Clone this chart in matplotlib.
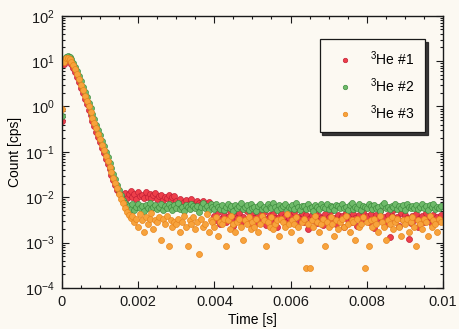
import numpy as np
import matplotlib
matplotlib.use("Agg")
import matplotlib.pyplot as plt
from matplotlib.ticker import LogLocator, FixedLocator, FixedFormatter, MultipleLocator, NullFormatter

plt.rcParams['font.family'] = ['Liberation Sans', 'DejaVu Sans']
plt.rcParams['mathtext.fontset'] = 'custom'
plt.rcParams['mathtext.rm'] = 'Liberation Sans'
plt.rcParams['mathtext.it'] = 'Liberation Sans:italic'
plt.rcParams['mathtext.bf'] = 'Liberation Sans:bold'

# ---- data (counts in units of 1e-3 cps), 50 us time bins ----
bin_width = 5e-5
series_labels = [r'$^3$He #1', r'$^3$He #2', r'$^3$He #3']

he1_mcps = [480, 8800, 11000, 10700, 10000, 8700, 7200, 5800, 4500, 3400,
            2600, 1950, 1480, 1120, 850, 650, 490, 370, 280, 210,
            162, 123, 93, 71, 54, 41, 31, 23.4, 18.2, 14.5, 12.3, 11.2,
            10.8, 12.5, 9.6, 11.9, 13.4, 10.2, 11.5, 9.1, 12.8, 10.6,
            11.2, 9.8, 13.0, 10.0, 11.7, 9.4, 10.9, 12.1, 9.0, 10.4,
            11.3, 8.8, 10.1, 9.5, 11.0, 8.6, 9.9, 10.7,
            8.2, 7.1, 9.0, 6.8, 7.9, 8.6, 6.5, 7.6, 8.9, 7.0,
            6.3, 8.1, 7.4, 6.9, 8.4, 6.1, 7.2, 7.8, 5.9, 6.7,
            3.9, 3.2, 4.6, 2.6, 3.5, 4.1, 2.9, 3.6, 4.9, 3.2,
            2.3, 4.0, 3.4, 4.4, 2.8, 3.7, 3.1, 5.0, 3.3, 2.5,
            4.0, 3.5, 2.7, 4.3, 3.2, 3.8, 4.7, 2.4, 3.4, 4.0,
            3.0, 4.2, 3.5, 2.2, 3.7, 4.5, 3.1, 3.9, 2.8, 3.4,
            4.1, 3.1, 4.8, 2.6, 3.6, 3.3, 4.4, 2.9, 4.0, 2.0,
            3.5, 4.0, 3.2, 4.6, 2.7, 3.8, 3.4, 2.4, 4.2, 3.1,
            3.7, 4.9, 3.0, 3.5, 2.5, 4.1, 3.3, 3.9, 2.2, 4.5,
            3.2, 3.6, 2.9, 4.3, 3.5, 2.3, 4.0, 3.1, 4.7, 3.4,
            3.8, 2.8, 4.2, 3.2, 2.1, 4.0, 3.5, 4.9, 3.0, 3.7,
            2.6, 4.1, 1.3, 3.9, 5.2, 3.1, 3.6, 2.3, 4.4, 3.1,
            4.0, 3.4, 1.2, 2.7, 3.8, 3.2, 4.2, 2.2, 3.5, 3.9,
            2.9, 4.5, 3.3, 3.7, 2.5, 4.0, 3.2, 3.6, 3.0, 4.1]

he2_mcps = [620, 10500, 12600, 13200, 12300, 11000, 9300, 7600, 6000, 4700,
            3600, 2750, 2090, 1580, 1200, 910, 690, 520, 400, 300,
            230, 174, 132, 100, 76, 58, 44, 33, 25, 19,
            14.5, 11.0, 8.7, 7.4, 6.6,
            6.3, 5.6, 6.9, 5.2, 6.1, 7.2, 5.8, 6.5, 5.0, 6.7, 5.9, 7.5, 5.4, 6.2, 6.8, 5.5, 6.0, 7.0, 5.3, 6.4, 5.7, 6.9, 6.1, 5.1, 6.6,
            5.9, 7.3, 5.6, 6.2, 5.0, 6.8, 6.0, 5.4, 7.1, 6.3, 5.7, 6.5, 4.8, 6.1, 7.4, 5.8, 6.4, 5.2, 6.9, 6.0, 5.5, 7.0, 6.2, 5.6, 6.7,
            5.3, 6.1, 7.2, 5.9, 6.4, 5.0, 6.8, 5.7, 6.3, 7.6, 5.5, 6.0, 6.6, 5.2, 7.0, 5.8, 6.2, 4.9, 6.5, 7.1, 5.6, 6.1, 5.4, 6.9, 6.0,
            5.7, 7.3, 6.2, 5.1, 6.6, 5.9, 6.4, 7.0, 5.3, 6.1, 5.8, 6.8, 5.5, 7.4, 6.0, 5.2, 6.5, 6.3, 5.6, 7.1, 5.9, 6.2, 4.9, 6.7, 6.0,
            5.4, 6.9, 6.1, 5.8, 7.2, 5.5, 6.4, 6.0, 5.1, 6.8, 6.3, 5.7, 7.0, 5.9, 6.2, 5.3, 6.6, 7.5, 5.6, 6.1, 5.8, 6.9, 5.2, 6.4, 6.0,
            5.7, 7.1, 6.3, 5.5, 6.7, 5.9, 6.2, 5.0, 6.8, 7.3, 5.8, 6.1, 5.4, 6.5, 6.0, 7.0, 5.6, 6.3, 5.9, 6.6, 5.2, 7.2, 6.1, 5.7, 6.4,
            5.9, 6.8, 5.5, 6.2, 7.0, 5.8, 6.3, 5.1, 6.6, 6.0, 7.2, 5.6, 6.1, 5.9, 6.5]

he3_mcps = [900, 9800, 11800, 11600, 10900, 9600, 8100, 6600, 5200, 4000,
            3050, 2300, 1740, 1320, 1000, 760, 570, 430, 330, 250,
            190, 143, 108, 82, 62, 47, 36, 27, 20.5, 15.7,
            12.0, 9.3, 7.3, 5.8, 4.7, 4.0, 3.4,
            3.92, 2.80, 3.36, 2.24, 4.20, 3.08, 1.68, 3.64, 2.52, 3.36, 4.48, 1.96, 3.08, 2.80, 3.64, 1.12, 3.36, 2.52, 3.92, 0.84, 3.08, 2.24, 2.80,
            2.52, 3.36, 1.68, 2.80, 3.92, 2.24, 0.84, 3.08, 2.52, 3.64, 1.96, 2.80, 0.56, 3.36, 2.24, 2.52, 4.20, 1.68, 3.08, 2.80,
            2.24, 3.64, 1.40, 2.80, 2.52, 3.36, 0.84, 3.08, 1.96, 3.92, 2.52, 1.68, 2.80, 3.36, 2.24, 1.12, 3.08, 2.52, 3.64, 1.96,
            2.80, 2.24, 3.36, 1.68, 2.52, 3.92, 3.08, 0.84, 2.80, 2.24, 3.64, 1.96, 2.52, 3.08, 1.40, 3.36, 2.80, 2.24, 4.20, 2.52,
            1.68, 3.08, 2.52, 3.64, 2.24, 1.12, 2.80, 3.36, 0.28, 2.52, 0.28, 3.08, 2.24, 3.92, 2.80, 1.68, 2.52, 3.36, 0.84, 2.80,
            2.24, 3.64, 2.52, 1.40, 3.08, 1.96, 2.80, 3.36, 2.24, 3.92, 2.52, 1.68, 3.08, 2.80, 1.12, 3.36, 2.24, 2.52, 3.64, 0.28,
            2.80, 0.84, 3.08, 2.24, 3.36, 2.52, 1.68, 3.92, 2.80, 2.24, 1.12, 3.08, 2.52, 3.64, 1.96, 2.80, 3.36, 2.24, 1.40, 3.08,
            2.52, 3.36, 1.68, 2.80, 3.64, 2.24, 0.84, 3.08, 2.52, 1.96, 3.36, 2.80, 1.40, 3.92, 2.24, 3.08, 2.52, 1.68, 3.36, 2.80]

x_tick_values = [0, 0.002, 0.004, 0.006, 0.008, 0.01]
x_tick_labels = ['0', '0.002', '0.004', '0.006', '0.008', '0.01']

face_colors = ['#ee3f4a', '#6fbb6a', '#f7a33c']
edge_colors = ['#c21f35', '#3f8d3f', '#e8861e']

bg = '#fcf9f2'
fig = plt.figure(figsize=(4.59, 3.29), dpi=100, facecolor=bg)
ax = fig.add_axes([0.135, 0.125, 0.830, 0.827], facecolor=bg)

for vals, lab, fc, ec in zip([he1_mcps, he2_mcps, he3_mcps], series_labels, face_colors, edge_colors):
    y = np.array(vals, dtype=float) / 1000.0
    t = np.arange(len(y)) * bin_width
    ax.plot(t, y, linestyle='none', marker='o', ms=4.3, mfc=fc, mec=ec, mew=0.5, label=lab)

ax.set_yscale('log')
ax.set_ylim(1e-4, 1e2)
ax.set_xlim(0, 0.01)

ax.xaxis.set_major_locator(FixedLocator(x_tick_values))
ax.xaxis.set_major_formatter(FixedFormatter(x_tick_labels))
ax.xaxis.set_minor_locator(MultipleLocator(0.0005))
ax.yaxis.set_major_locator(LogLocator(base=10, numticks=10))
ax.yaxis.set_minor_locator(LogLocator(base=10, subs=np.arange(2, 10), numticks=20))
ax.yaxis.set_minor_formatter(NullFormatter())

ax.tick_params(which='both', direction='in', top=True, right=True, labelsize=10.5, colors='#1a1a1a', width=0.8)
ax.tick_params(which='major', length=5, pad=5)
ax.tick_params(which='minor', length=2.5)
for s in ax.spines.values():
    s.set_linewidth(1.0)
    s.set_color('#1a1a1a')

ax.set_xlabel('Time [s]', fontsize=10, labelpad=3)
ax.set_ylabel('Count [cps]', fontsize=10, labelpad=2)

leg = ax.legend(loc='upper right', bbox_to_anchor=(0.953, 0.915), fontsize=10,
                frameon=True, fancybox=False, shadow={'color': '#222222', 'alpha': 0.9},
                edgecolor='#1a1a1a', facecolor=bg, markerscale=0.75,
                borderpad=0.75, labelspacing=0.6, handletextpad=0.7, handlelength=2.2,
                borderaxespad=0)
leg.get_frame().set_linewidth(0.9)

fig.savefig('out.png', dpi=100, facecolor=bg)
